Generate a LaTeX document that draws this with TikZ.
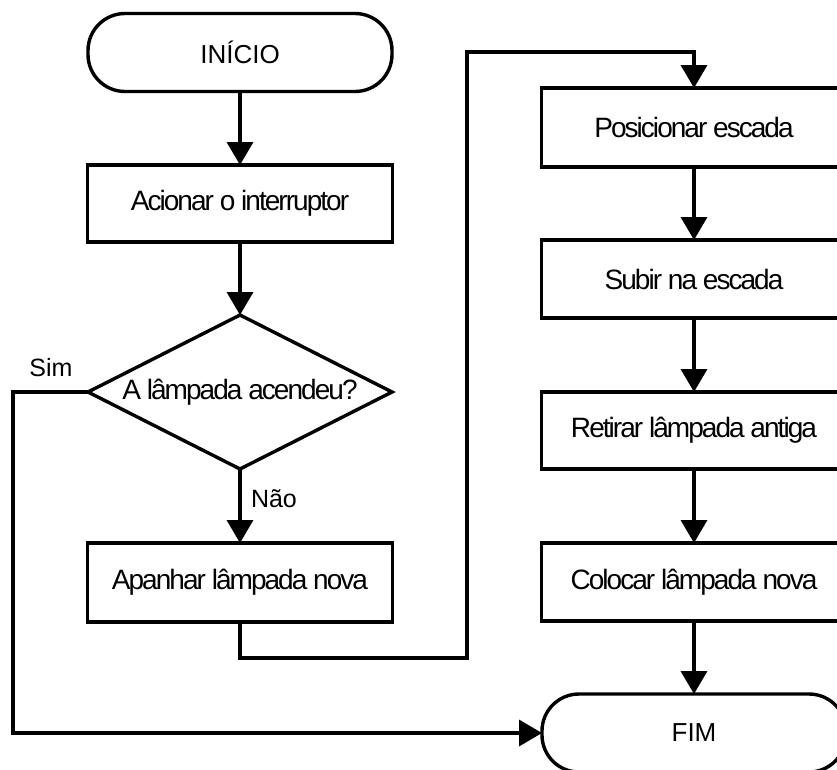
\documentclass[tikz,border=0pt]{standalone}
\usepackage{fontspec}
\setmainfont{Liberation Sans}
\newfontfamily\stepfont[LetterSpace=-7]{Liberation Sans}
\usetikzlibrary{arrows.meta,shapes.geometric}

\tikzset{
  every node/.style={inner sep=0pt, outer sep=0pt},
  flowline/.style={line width=3.6pt, line join=miter, line cap=butt},
  flowarrow/.style={flowline, -{Triangle[width=26pt,length=23pt]}},
  stepbox/.style={draw, line width=3.4pt, rectangle, minimum width=305pt,
    font=\stepfont\fontsize{28pt}{31pt}\selectfont},
  terminal/.style={draw, line width=3.4pt, rectangle, rounded corners=37pt,
    minimum width=304pt, minimum height=78pt,
    font=\fontsize{26pt}{29pt}\selectfont},
  decision/.style={draw, line width=3.4pt, diamond, aspect=1.974,
    minimum width=304pt, minimum height=154pt,
    font=\stepfont\fontsize{28pt}{31pt}\selectfont},
  flowlabel/.style={font=\fontsize{25pt}{28pt}\selectfont}
}

\begin{document}
\begin{tikzpicture}[x=1pt, y=-1pt]
  \useasboundingbox (0,0) rectangle (837,769);
  \clip (0,0) rectangle (837,769);

  % left column
  \node[terminal] (inicio) at (240,52.5) {INÍCIO};
  \node[stepbox, minimum height=77pt] (acionar) at (240,203.5) {Acionar o interruptor};
  \node[decision] (teste) at (240,392) {A lâmpada acendeu?};
  \node[stepbox, minimum height=79pt] (apanhar) at (240,582.5) {Apanhar lâmpada nova};

  % right column
  \node[stepbox, minimum height=79pt] (posicionar) at (694,127.5) {Posicionar escada};
  \node[stepbox, minimum height=78pt] (subir) at (694,279) {Subir na escada};
  \node[stepbox, minimum height=77pt] (retirar) at (694,430.5) {Retirar lâmpada antiga};
  \node[stepbox, minimum height=78pt] (colocar) at (694,582) {Colocar lâmpada nova};
  \node[terminal] (fim) at (694,733) {FIM};

  % bends of the routed connectors
  \coordinate (simcanto) at (13,392);
  \coordinate (baixo) at (467,658);
  \coordinate (cima) at (467,52);

  % connectors
  \draw[flowarrow] (inicio.south) -- (acionar.north);
  \draw[flowarrow] (acionar.south) -- (teste.north);
  \draw[flowarrow] (teste.south) -- (apanhar.north);
  \draw[flowarrow] (teste.west) -- (simcanto) |- (fim.west);
  \draw[flowarrow] (apanhar.south) |- (baixo) -- (cima) -| (posicionar.north);
  \draw[flowarrow] (posicionar.south) -- (subir.north);
  \draw[flowarrow] (subir.south) -- (retirar.north);
  \draw[flowarrow] (retirar.south) -- (colocar.north);
  \draw[flowarrow] (colocar.south) -- (fim.north);

  % branch labels
  \node[flowlabel] (sim) at (51,368) {Sim};
  \node[flowlabel, anchor=west] (nao) at (251,499) {Não};
\end{tikzpicture}
\end{document}
